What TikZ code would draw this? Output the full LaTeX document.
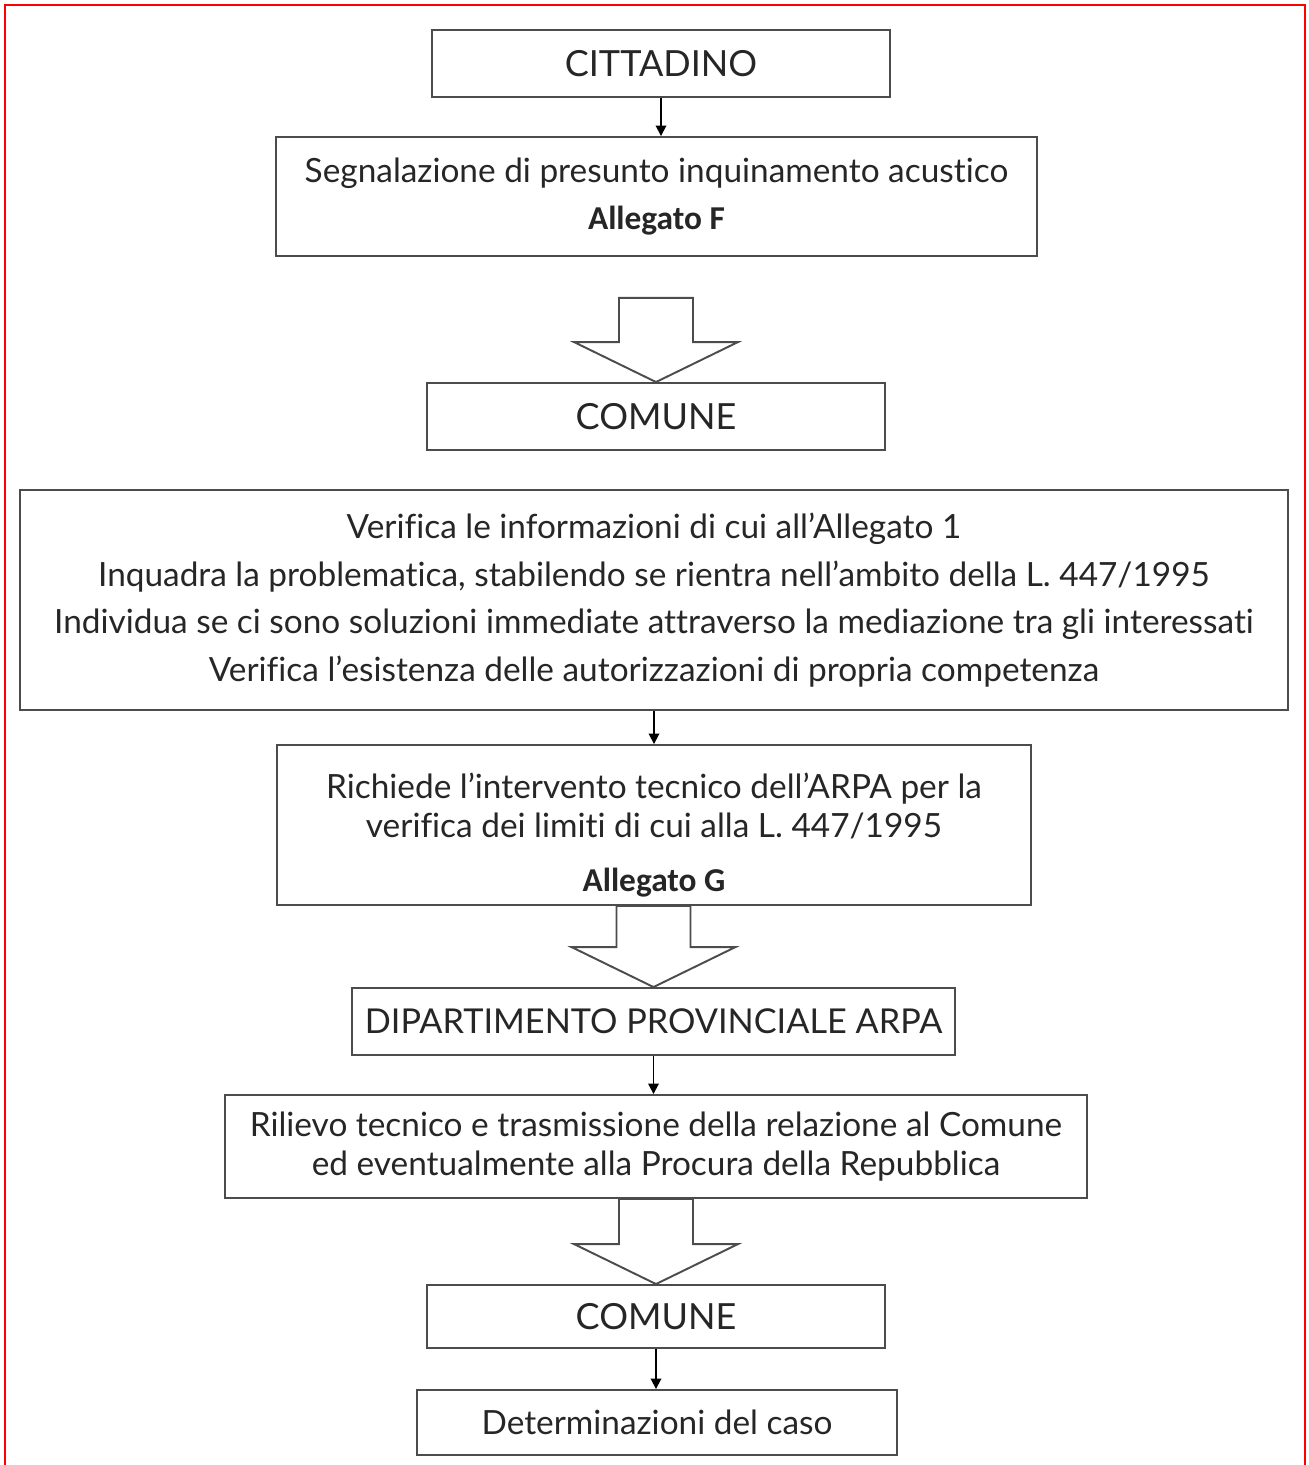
\documentclass[tikz,border=0pt]{standalone}
\usepackage{fontspec}
\setmainfont{Lato}[Ligatures=NoCommon]
\newfontfamily\allegatofont{Carlito}
\usetikzlibrary{calc,arrows.meta}

\begin{document}
\begin{tikzpicture}[
	x=0.02cm, y=-0.02cm,
	box/.style = {
		shape=rectangle, draw=black!70, line width=1.1pt,
		align=center, inner sep=0pt, text=black!85,
		font=\fontsize{19}{27}\selectfont},
	tight/.style = {font=\fontsize{19}{22.7}\selectfont},
	caps/.style = {font=\fontsize{20.5}{27}\selectfont},
	link/.style = {draw=black, line width=1pt, -{Triangle[length=6pt,width=6pt]}},
	hollow/.style = {draw=black!70, line width=1.1pt, fill=white}]
	\useasboundingbox (0,0) rectangle (1309,1465);
	\draw[red, line width=1.2pt] (5,1465) -- (5,5) -- (1305,5) -- (1305,1465);

	\node[box, caps, minimum width=9.16cm, minimum height=1.34cm] (citt) at (661,63.5) {CITTADINO};
	\node[box, minimum width=15.22cm, minimum height=2.38cm] (seg) at (656.5,196.5)
		{Segnalazione di presunto inquinamento acustico\\{\allegatofont\bfseries\fontsize{19}{27}\selectfont Allegato F}};
	\node[box, caps, minimum width=9.16cm, minimum height=1.34cm] (com1) at (656,416.5) {COMUNE};
	\node[box, minimum width=25.36cm, minimum height=4.4cm] (verif) at (654,600)
		{Verifica le informazioni di cui all’Allegato 1\\
		Inquadra la problematica, stabilendo se rientra nell’ambito della L. 447/1995\\
		Individua se ci sono soluzioni immediate attraverso la mediazione tra gli interessati\\
		Verifica l’esistenza delle autorizzazioni di propria competenza};
	\node[box, tight, minimum width=15.08cm, minimum height=3.2cm] (rich) at (654,825)
		{\rule{0pt}{26pt}Richiede l’intervento tecnico dell’ARPA per la\\verifica dei limiti di cui alla L. 447/1995\\[8pt]
		{\allegatofont\bfseries\fontsize{19}{22}\selectfont Allegato G}};
	\node[box, caps, font=\fontsize{19.5}{27}\selectfont, minimum width=12.06cm, minimum height=1.34cm] (dip) at (653.5,1021.5) {DIPARTIMENTO PROVINCIALE ARPA};
	\node[box, tight, minimum width=17.24cm, minimum height=2.06cm] (ril) at (656,1146.5)
		{Rilievo tecnico e trasmissione della relazione al Comune\\ed eventualmente alla Procura della Repubblica};
	\node[box, caps, minimum width=9.16cm, minimum height=1.26cm] (com2) at (656,1316.5) {COMUNE};
	\node[box, minimum width=9.6cm, minimum height=1.3cm] (det) at (657,1422.5) {Determinazioni del caso};

	% small arrows
	\draw[link] (citt.south) -- (citt.south |- seg.north);
	\draw[link] (verif.south) -- (verif.south |- rich.north);
	\draw[link] (dip.south) -- (dip.south |- ril.north);
	\draw[link] (com2.south) -- (com2.south |- det.north);

	% hollow arrows
	\foreach \a/\b/\gap in {seg/com1/41, rich/dip/0, ril/com2/0}
		\draw[hollow] ($(\a.south -| \b.north)+(-37,\gap)$) -- ($(\b.north)+(-37,-40)$)
			-- ($(\b.north)+(-82,-40)$) -- (\b.north) -- ($(\b.north)+(82,-40)$)
			-- ($(\b.north)+(37,-40)$) -- ($(\a.south -| \b.north)+(37,\gap)$) -- cycle;
\end{tikzpicture}
\end{document}
